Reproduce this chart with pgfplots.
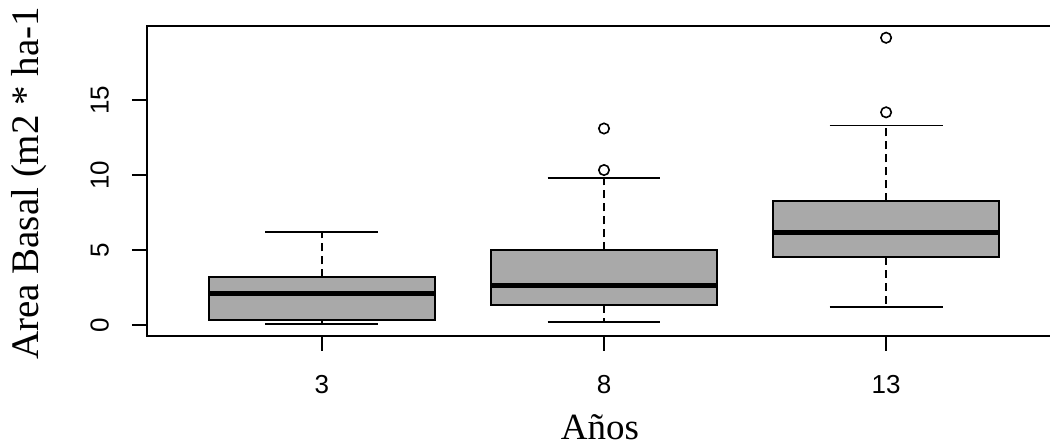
\documentclass[border=0pt]{standalone}
\usepackage{pgfplots}
\pgfplotsset{compat=1.18}
\usepgfplotslibrary{statistics}
\usepackage{fontspec}
\setmainfont{Liberation Serif}
\newfontfamily\ticksf{Liberation Sans}
\definecolor{boxgray}{HTML}{A9A9A9}
\begin{document}
\begin{tikzpicture}
\useasboundingbox (0,0) rectangle (525pt,222.5pt);
\begin{axis}[
  at={(73.5pt,54.6pt)}, anchor=south west,
  scale only axis, width=457pt, height=154.8pt,
  xmin=0.38, xmax=3.62, ymin=-0.72, ymax=19.92,
  xtick={1,2,3}, xticklabels={3,8,13},
  ytick={0,5,10,15},
  xtick pos=bottom, ytick pos=left,
  tick align=outside, major tick length=7.5pt,
  tick style={black, line width=0.8pt},
  axis line style={black, line width=0.9pt},
  /pgf/number format/assume math mode=true,
  ticklabel style={font=\ticksf\fontsize{13pt}{15pt}\selectfont, inner sep=0pt},
  xticklabel shift=12pt,
  yticklabel shift=11.35pt,
  yticklabel style={rotate=90, anchor=south},
  clip=false,
  boxplot/draw direction=y,
  boxplot/every box/.style={fill=boxgray, draw=black, line width=1pt},
  boxplot/every median/.style={draw=black, line width=2.4pt},
  boxplot/every whisker/.style={draw=black, line width=0.9pt},
  boxplot/draw/lower whisker/.code={%
    \draw[/pgfplots/boxplot/every whisker/.try, dash pattern=on 4pt off 2.5pt]
      (boxplot cs:\pgfplotsboxplotvalue{lower quartile}) --
      (boxplot cs:\pgfplotsboxplotvalue{lower whisker});
    \draw[/pgfplots/boxplot/every whisker/.try]
      (boxplot whisker cs:\pgfplotsboxplotvalue{lower whisker},0) --
      (boxplot whisker cs:\pgfplotsboxplotvalue{lower whisker},1);
  },
  boxplot/draw/upper whisker/.code={%
    \draw[/pgfplots/boxplot/every whisker/.try, dash pattern=on 4pt off 2.5pt]
      (boxplot cs:\pgfplotsboxplotvalue{upper quartile}) --
      (boxplot cs:\pgfplotsboxplotvalue{upper whisker});
    \draw[/pgfplots/boxplot/every whisker/.try]
      (boxplot whisker cs:\pgfplotsboxplotvalue{upper whisker},0) --
      (boxplot whisker cs:\pgfplotsboxplotvalue{upper whisker},1);
  },
]
\addplot[black, mark=o, mark size=2.6pt, mark options={line width=0.8pt},
  boxplot prepared={draw position=1, lower whisker=0.05, lower quartile=0.31,
    median=2.09, upper quartile=3.18, upper whisker=6.18,
    box extend=0.8, whisker extend=0.4}]
  coordinates {};
\addplot[black, mark=o, mark size=2.6pt, mark options={line width=0.8pt},
  boxplot prepared={draw position=2, lower whisker=0.22, lower quartile=1.31,
    median=2.64, upper quartile=4.98, upper whisker=9.82,
    box extend=0.8, whisker extend=0.4}]
  coordinates {(2,10.33) (2,13.1)};
\addplot[black, mark=o, mark size=2.6pt, mark options={line width=0.8pt},
  boxplot prepared={draw position=3, lower whisker=1.22, lower quartile=4.51,
    median=6.18, upper quartile=8.24, upper whisker=13.3,
    box extend=0.8, whisker extend=0.4}]
  coordinates {(3,14.18) (3,19.15)};
\end{axis}
\node[anchor=base, inner sep=0pt, font=\fontsize{18.5pt}{22pt}\selectfont] at (300pt,3pt) {Años};
\node[rotate=90, anchor=base west, font=\fontsize{19.5pt}{23pt}\selectfont] at (19pt,39pt) {Area Basal (m2 * ha-1};
\end{tikzpicture}
\end{document}
